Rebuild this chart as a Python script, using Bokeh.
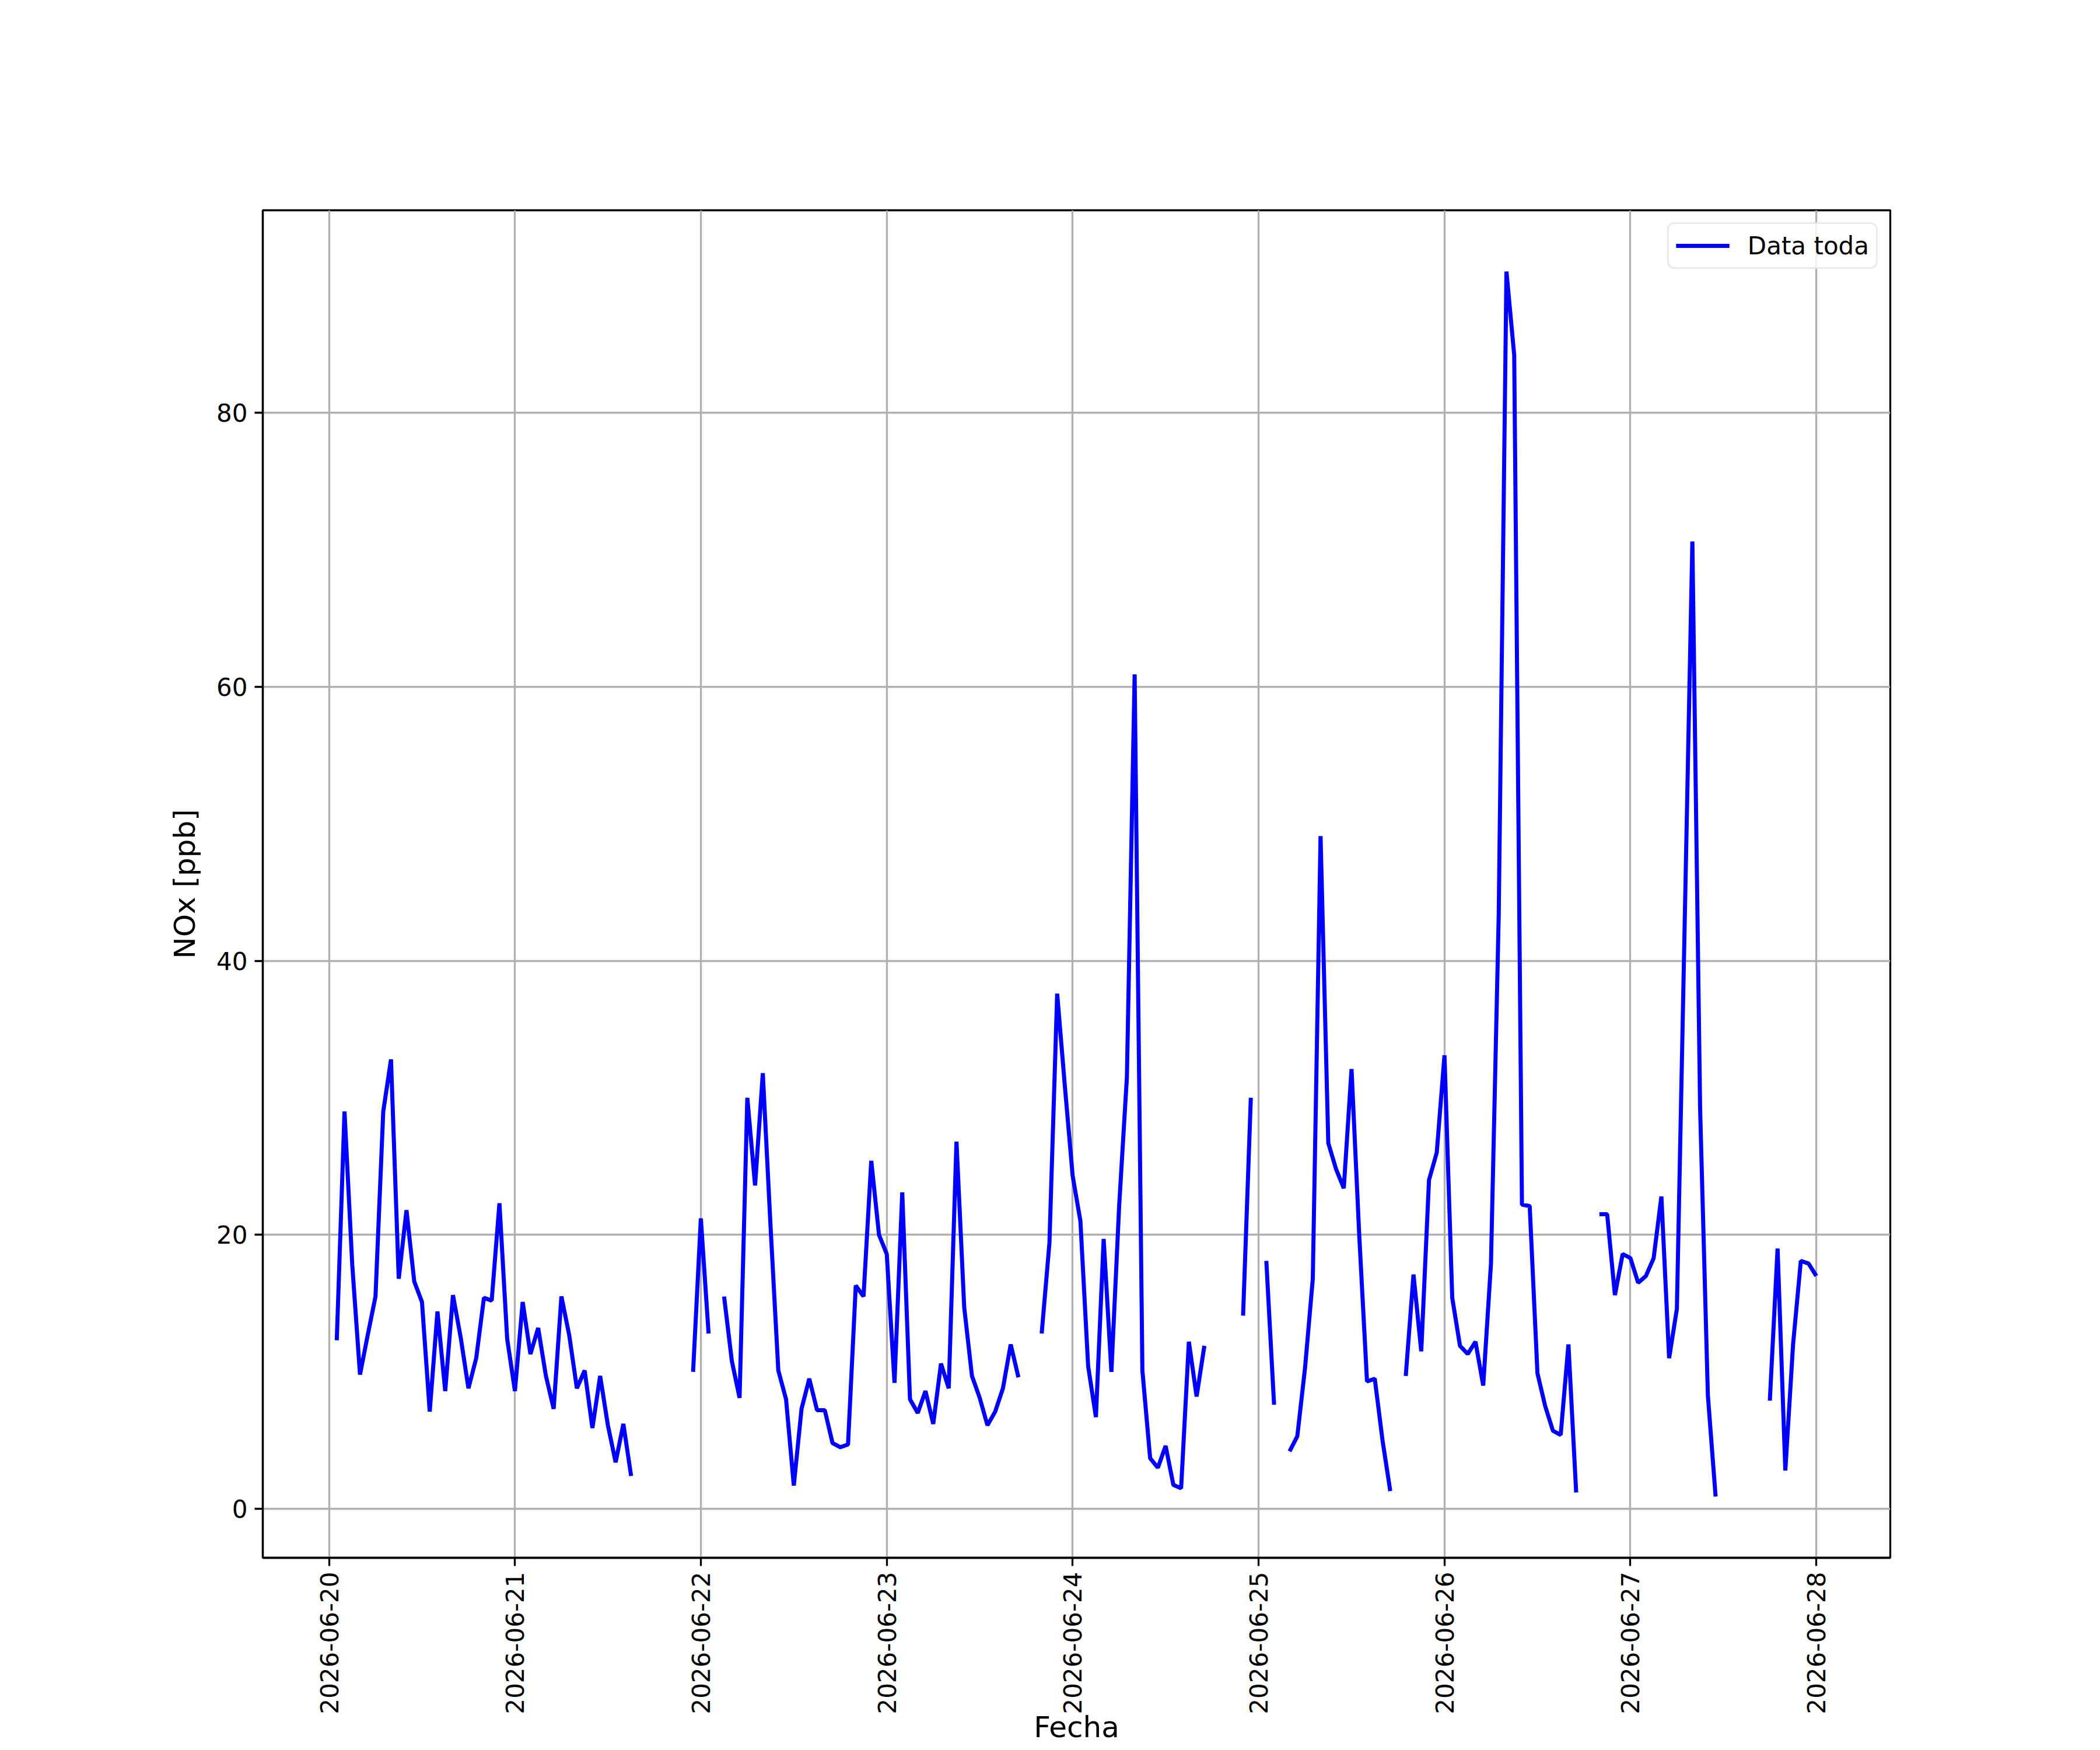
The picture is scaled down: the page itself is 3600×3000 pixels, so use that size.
import math
import numpy as np
import pandas as pd
from bokeh.plotting import figure
from bokeh.models import Range1d, FixedTicker, DatetimeTickFormatter
from bokeh.embed import file_html
from bokeh.resources import INLINE

nan = float("nan")

# Hourly NOx values [ppb], one list per day (hours 00..23)
nox_0620 = [nan, 12.3, 29.0, 17.8, 9.8, 12.7, 15.5, 29.0, 32.8, 16.8, 21.8, 16.6,
            15.1, 7.1, 14.4, 8.6, 15.6, 12.5, 8.8, 11.0, 15.4, 15.2, 22.3, 12.4]
nox_0621 = [8.6, 15.1, 11.3, 13.2, 9.7, 7.3, 15.5, 12.7, 8.8, 10.1, 5.9, 9.7,
            6.1, 3.4, 6.2, 2.4, nan, nan, nan, nan, nan, nan, nan, 10.0]
nox_0622 = [21.2, 12.8, nan, 15.5, 10.8, 8.1, 30.0, 23.6, 31.8, 20.6, 10.1, 8.0,
            1.7, 7.3, 9.5, 7.2, 7.2, 4.8, 4.5, 4.7, 16.3, 15.5, 25.4, 20.0]
nox_0623 = [18.6, 9.2, 23.1, 8.0, 7.0, 8.6, 6.2, 10.6, 8.8, 26.8, 14.7, 9.7,
            8.1, 6.1, 7.1, 8.8, 12.0, 9.6, nan, nan, 12.8, 19.4, 37.6, 30.8]
nox_0624 = [24.3, 21.0, 10.4, 6.7, 19.7, 10.0, 22.1, 31.5, 60.9, 10.1, 3.7, 3.0,
            4.6, 1.75, 1.5, 12.2, 8.2, 11.9, nan, nan, nan, nan, 14.1, 30.0]
nox_0625 = [nan, 18.1, 7.6, nan, 4.2, 5.3, 10.3, 16.8, 49.1, 26.7, 24.8, 23.4,
            32.1, 19.9, 9.3, 9.5, 5.0, 1.3, nan, 9.7, 17.1, 11.5, 24.0, 26.0]
nox_0626 = [33.1, 15.4, 11.9, 11.3, 12.2, 9.0, 17.9, 43.3, 90.3, 84.2, 22.2, 22.1,
            9.9, 7.5, 5.7, 5.4, 12.0, 1.2, nan, nan, 21.5, 21.5, 15.6, 18.6]
nox_0627 = [18.3, 16.5, 17.0, 18.3, 22.8, 11.0, 14.6, 42.5, 70.6, 29.2, 8.3, 0.9,
            nan, nan, nan, nan, nan, nan, 7.9, 19.0, 2.8, 12.0, 18.1, 17.9]
nox_0628 = [17.0]

day_labels = ["2026-06-20", "2026-06-21", "2026-06-22", "2026-06-23", "2026-06-24",
              "2026-06-25", "2026-06-26", "2026-06-27", "2026-06-28"]
y_ticks = [0, 20, 40, 60, 80]

values = (nox_0620 + nox_0621 + nox_0622 + nox_0623 + nox_0624 + nox_0625 +
          nox_0626 + nox_0627 + nox_0628)
times = pd.date_range("2026-06-20 00:00", periods=len(values), freq="h")
vals = np.array(values, dtype=float)

valid = ~np.isnan(vals)
t_valid = times[valid]
t0, t1 = t_valid.min(), t_valid.max()
span = t1 - t0
x_start = t0 - 0.05 * span
x_end = t1 + 0.05 * span
vmin, vmax = np.nanmin(vals), np.nanmax(vals)
vr = vmax - vmin
y_start = vmin - 0.05 * vr
y_end = vmax + 0.05 * vr

p = figure(width=3584, height=2992, x_axis_type="datetime",
           output_backend="svg", toolbar_location=None,
           x_range=Range1d(x_start, x_end), y_range=Range1d(y_start, y_end),
           min_border_left=450, min_border_right=344,
           min_border_top=360, min_border_bottom=310)

p.background_fill_color = "white"
p.border_fill_color = "white"
p.outline_line_color = "black"
p.outline_line_width = 3.3

p.line(times, vals, line_color="#0000ff", line_width=7, legend_label="Data toda")

tick_ms = [pd.Timestamp(d).value / 1e6 for d in day_labels]
p.xaxis.ticker = FixedTicker(ticks=tick_ms)
fmt = "%Y-%m-%d"
p.xaxis.formatter = DatetimeTickFormatter(days=fmt, months=fmt, hours=fmt, years=fmt,
                                          hourmin=fmt, minutes=fmt, minsec=fmt,
                                          seconds=fmt, milliseconds=fmt, microseconds=fmt)
p.xaxis.major_label_orientation = math.pi / 2
p.yaxis.ticker = FixedTicker(ticks=y_ticks)

for ax in (p.xaxis, p.yaxis):
    ax.axis_line_color = "black"
    ax.axis_line_width = 3.3
    ax.major_tick_line_color = "black"
    ax.major_tick_line_width = 3.3
    ax.major_tick_out = 14
    ax.major_tick_in = 0
    ax.minor_tick_out = 0
    ax.minor_tick_in = 0
    ax.major_label_standoff = 12
    ax.major_label_text_font = "DejaVu Sans"
    ax.major_label_text_font_size = "42px"
    ax.major_label_text_color = "black"
    ax.axis_label_text_font = "DejaVu Sans"
    ax.axis_label_text_font_size = "50px"
    ax.axis_label_text_font_style = "normal"
    ax.axis_label_text_color = "black"

p.xaxis.major_label_standoff = 10
p.xaxis.axis_label = "Fecha"
p.xaxis.axis_label_standoff = -10
p.yaxis.axis_label = "NOx [ppb]"
p.yaxis.axis_label_standoff = 22

p.grid.grid_line_color = "#b0b0b0"
p.grid.grid_line_width = 3.3

lg = p.legend[0]
lg.location = "top_right"
lg.margin = 21
lg.padding = 12
lg.spacing = 0
lg.label_text_font = "DejaVu Sans"
lg.label_text_font_size = "42px"
lg.label_text_color = "black"
lg.label_standoff = 31
lg.glyph_width = 92
lg.glyph_height = 50
lg.label_height = 50
lg.border_line_color = "#d5d5d5"
lg.border_line_width = 3.3
lg.border_radius = 12
lg.background_fill_alpha = 0.8

open("out.html", "w").write(file_html(p, INLINE))
